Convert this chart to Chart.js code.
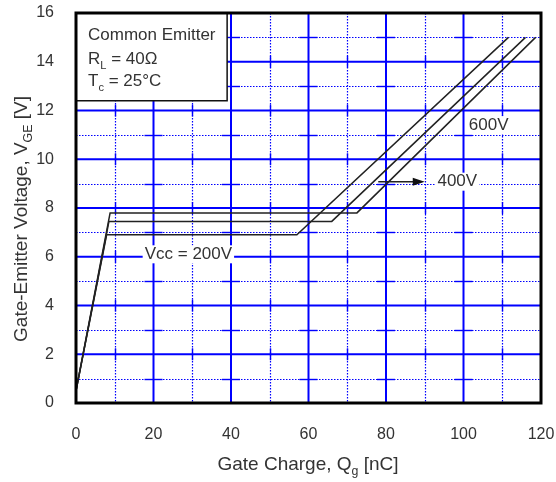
<!DOCTYPE html>
<html>
<head>
<meta charset="utf-8">
<script src="https://cdn.jsdelivr.net/npm/chart.js@4.4.1/dist/chart.umd.min.js"></script>
<style>
html, body { margin: 0; padding: 0; background: #fff; }
#wrap { width: 556px; height: 482px; }
</style>
</head>
<body>
<div id="wrap"><canvas id="myChart"></canvas></div>
<script>
// gate charge curves
const qg200 = [0, 7.9, 57, 111.6];
const vge200 = [0.5, 6.9, 6.9, 15.0];
const qg400 = [0, 8.5, 66, 116];
const vge400 = [0.5, 7.45, 7.45, 15.0];
const qg600 = [0, 8.8, 72.5, 118.6];
const vge600 = [0.5, 7.8, 7.8, 15.0];

const xMin = 0, xMax = 120, xStep = 20;
const yMin = 0, yMax = 16, yStep = 2;

const FONT = "'Liberation Sans', Arial, sans-serif";

function toPoints(xs, ys) {
    return xs.map((v, i) => ({x: v, y: ys[i]}));
}

const gridPlugin = {
    id: 'gridLines',
    beforeDatasetsDraw(chart) {
        const {ctx, chartArea: a, scales: {x, y}} = chart;
        ctx.save();
        ctx.strokeStyle = '#0000ff';
        // minor lines, dotted
        ctx.lineWidth = 1.2;
        ctx.setLineDash([1.5, 1.5]);
        for (let v = xMin + xStep / 2; v < xMax; v += xStep) {
            const px = Math.round(x.getPixelForValue(v)) + 0.5;
            ctx.beginPath(); ctx.moveTo(px, a.top); ctx.lineTo(px, a.bottom); ctx.stroke();
        }
        for (let v = yMin + yStep / 2; v < yMax; v += yStep) {
            const py = Math.round(y.getPixelForValue(v)) + 0.5;
            ctx.beginPath(); ctx.moveTo(a.left, py); ctx.lineTo(a.right, py); ctx.stroke();
        }
        // short solid bits where minor lines cross major ones
        ctx.setLineDash([]);
        ctx.lineWidth = 1.4;
        for (let v = yMin + yStep / 2; v < yMax; v += yStep) {
            const py = Math.round(y.getPixelForValue(v)) + 0.5;
            for (let u = xMin + xStep; u < xMax; u += xStep) {
                const px = x.getPixelForValue(u);
                ctx.beginPath(); ctx.moveTo(px - 9, py); ctx.lineTo(px + 9, py); ctx.stroke();
            }
        }
        for (let v = xMin + xStep / 2; v < xMax; v += xStep) {
            const px = Math.round(x.getPixelForValue(v)) + 0.5;
            for (let u = yMin + yStep; u < yMax; u += yStep) {
                const py = y.getPixelForValue(u);
                ctx.beginPath(); ctx.moveTo(px, py - 6); ctx.lineTo(px, py + 6); ctx.stroke();
            }
        }
        // major lines, solid
        ctx.lineWidth = 2;
        for (let v = xMin + xStep; v < xMax; v += xStep) {
            const px = x.getPixelForValue(v);
            ctx.beginPath(); ctx.moveTo(px, a.top); ctx.lineTo(px, a.bottom); ctx.stroke();
        }
        for (let v = yMin + yStep; v < yMax; v += yStep) {
            const py = y.getPixelForValue(v);
            ctx.beginPath(); ctx.moveTo(a.left, py); ctx.lineTo(a.right, py); ctx.stroke();
        }
        ctx.restore();
    }
};

function labelAt(ctx, text, px, py) {
    ctx.font = '17px ' + FONT;
    const w = ctx.measureText(text).width;
    ctx.fillStyle = '#fff';
    ctx.fillRect(px - w / 2 - 2, py - 9, w + 4, 18);
    ctx.fillStyle = '#333';
    ctx.textAlign = 'center';
    ctx.textBaseline = 'middle';
    ctx.fillText(text, px, py);
}

// text with a subscript part: [[text, isSub], ...]
function subText(ctx, parts, px, py, size, align) {
    let total = 0;
    parts.forEach(p => {
        ctx.font = (p[1] ? size * 0.65 : size) + 'px ' + FONT;
        total += ctx.measureText(p[0]).width;
    });
    let cx = align === 'center' ? px - total / 2 : px;
    ctx.textAlign = 'left';
    ctx.textBaseline = 'alphabetic';
    parts.forEach(p => {
        ctx.font = (p[1] ? size * 0.65 : size) + 'px ' + FONT;
        ctx.fillText(p[0], cx, p[1] ? py + size * 0.28 : py);
        cx += ctx.measureText(p[0]).width;
    });
}

const notePlugin = {
    id: 'notes',
    afterDatasetsDraw(chart) {
        const {ctx, chartArea: a, scales: {x, y}} = chart;
        ctx.save();
        // condition box
        const bx = a.left, by = a.top;
        const bw = x.getPixelForValue(39) - a.left;
        const bh = y.getPixelForValue(12.4) - a.top;
        ctx.fillStyle = '#fff';
        ctx.fillRect(bx, by, bw, bh);
        ctx.strokeStyle = '#111';
        ctx.lineWidth = 1.5;
        ctx.strokeRect(bx, by, bw, bh);
        ctx.fillStyle = '#333';
        subText(ctx, [['Common Emitter', false]], bx + 12, 40, 17, 'left');
        subText(ctx, [['R', false], ['L', true], [' = 40\u03A9', false]], bx + 12, 64, 17, 'left');
        subText(ctx, [['T', false], ['c', true], [' = 25\u00B0C', false]], bx + 12, 86, 17, 'left');

        // curve labels
        labelAt(ctx, 'Vcc = 200V', x.getPixelForValue(29), y.getPixelForValue(6.1));
        labelAt(ctx, '400V', x.getPixelForValue(98.4), y.getPixelForValue(9.08));
        labelAt(ctx, '600V', x.getPixelForValue(106.5), y.getPixelForValue(11.4));

        // arrow to 400V curve
        const ay = y.getPixelForValue(9.08);
        const ax0 = x.getPixelForValue(78), ax1 = x.getPixelForValue(90);
        ctx.strokeStyle = '#222';
        ctx.lineWidth = 1.5;
        ctx.beginPath(); ctx.moveTo(ax0, ay); ctx.lineTo(ax1 - 8, ay); ctx.stroke();
        ctx.fillStyle = '#111';
        ctx.beginPath();
        ctx.moveTo(ax1, ay); ctx.lineTo(ax1 - 12, ay - 4); ctx.lineTo(ax1 - 12, ay + 4);
        ctx.closePath(); ctx.fill();

        // frame
        ctx.strokeStyle = '#000';
        ctx.lineWidth = 3;
        ctx.strokeRect(a.left, a.top, a.right - a.left, a.bottom - a.top);

        // axis titles
        ctx.fillStyle = '#333';
        subText(ctx, [['Gate Charge, Q', false], ['g', true], [' [nC]', false]], 308, 470, 19, 'center');
        ctx.translate(27, 219);
        ctx.rotate(-Math.PI / 2);
        subText(ctx, [['Gate-Emitter Voltage, V', false], ['GE', true], [' [V]', false]], 0, 0, 19, 'center');
        ctx.restore();
    }
};

function noScalePadding(scale) {
    scale.paddingTop = 0;
    scale.paddingBottom = 0;
    scale.paddingLeft = 0;
    scale.paddingRight = 0;
}

const ctx = document.getElementById('myChart');
const lineStyle = {
    showLine: true,
    borderColor: '#222',
    borderWidth: 1.5,
    pointRadius: 0,
    fill: false,
    tension: 0
};

new Chart(ctx, {
    type: 'scatter',
    data: {
        datasets: [
            Object.assign({label: '200V', data: toPoints(qg200, vge200)}, lineStyle),
            Object.assign({label: '400V', data: toPoints(qg400, vge400)}, lineStyle),
            Object.assign({label: '600V', data: toPoints(qg600, vge600)}, lineStyle)
        ]
    },
    options: {
        responsive: true,
        maintainAspectRatio: false,
        animation: false,
        layout: {padding: {top: 13, right: 15, bottom: 0, left: 0}},
        plugins: {legend: {display: false}, tooltip: {enabled: false}},
        scales: {
            x: {
                type: 'linear',
                min: xMin, max: xMax,
                ticks: {stepSize: xStep, padding: 14, color: '#333', font: {family: FONT, size: 16}, maxRotation: 0},
                grid: {display: false},
                border: {display: false},
                afterFit(scale) { scale.height = 79; noScalePadding(scale); }
            },
            y: {
                type: 'linear',
                min: yMin, max: yMax,
                ticks: {stepSize: yStep, padding: 14, color: '#333', font: {family: FONT, size: 16}},
                grid: {display: false},
                border: {display: false},
                afterFit(scale) { scale.width = 76; noScalePadding(scale); }
            }
        }
    },
    plugins: [gridPlugin, notePlugin]
});
</script>
</body>
</html>
